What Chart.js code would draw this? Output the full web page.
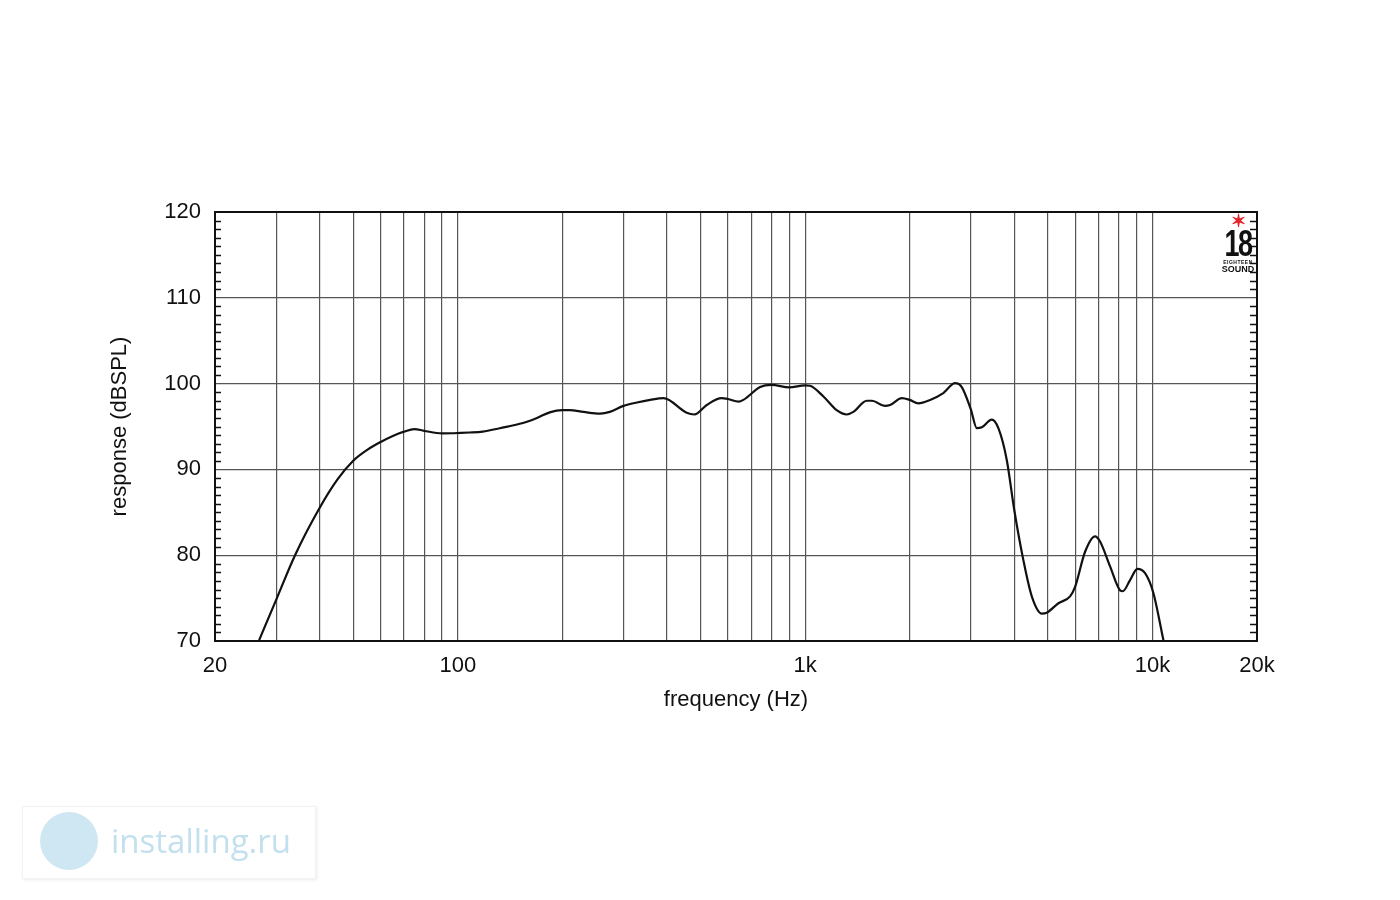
<!DOCTYPE html>
<html>
<head>
<meta charset="utf-8">
<script src="https://cdn.jsdelivr.net/npm/chart.js@4/dist/chart.umd.min.js"></script>
<style>
  html, body { margin: 0; padding: 0; background: #fff; }
  #wrap { position: relative; width: 1400px; height: 900px; }
  #logo { position: absolute; left: 1218px; top: 214px; width: 40px; text-align: center;
          font-family: "Liberation Sans Narrow", "Liberation Sans", Arial, sans-serif; color: #111; }
  #logo .star { color: #e3262b; font-size: 18px; line-height: 15px; font-weight: bold; }
  #logo .num { font-size: 36px; line-height: 30px; font-weight: bold; letter-spacing: -2px; transform: scaleX(0.75); }
  #logo .small { font-size: 5px; line-height: 6px; letter-spacing: 0.5px; font-weight: bold; }
  #logo .sound { font-size: 9px; line-height: 9px; font-weight: bold; }
  #wm { position: absolute; left: 22px; top: 806px; width: 292px; height: 71px; background: #fff;
        box-shadow: 1px 1px 3px rgba(0,0,0,0.08); border: 1px solid #f2f2f2; }
  #wm .circle { position: absolute; left: 17px; top: 5px; width: 58px; height: 58px; border-radius: 50%; background: #cfe7f3; }
  #wm .txt { position: absolute; left: 88px; top: 11px; font-family: "Open Sans", sans-serif; font-size: 33px; color: #c3e0ee; }
</style>
</head>
<body>
<div id="wrap">
  <canvas id="chart" width="1400" height="900"></canvas>
  <div id="logo">
    <div class="star">✶</div>
    <div class="num">18</div>
    <div class="small">EIGHTEEN</div>
    <div class="sound">SOUND</div>
  </div>
  <div id="wm"><div class="circle"></div><div class="txt">installing.ru</div></div>
</div>
<script>
// frequency response
const freqHz = [26.8, 30, 34, 40, 45, 50, 55, 60, 65, 70, 75, 80, 90, 108, 118, 132, 154, 169,
  184, 200, 210, 230, 257, 274, 300, 328, 358, 391, 456, 480, 521, 575, 600,
  643, 664, 742, 800, 900, 1000, 1033, 1129, 1233, 1318, 1377, 1505, 1556, 1699, 1756,
  1898, 2000, 2118, 2290, 2500, 2702, 2825, 3000, 3122, 3226, 3447, 3601, 3807, 4000, 4251,
  4494, 4802, 4963, 5362, 5793, 5988, 6398, 6836, 7066, 7551, 8070, 8216, 8622, 9050, 9524,
  10062, 10754];
const splDb = [70.1, 74.8, 80.0, 85.5, 88.8, 91.0, 92.3, 93.2, 93.9, 94.4, 94.7, 94.5, 94.2, 94.3, 94.4, 94.8, 95.4, 96.0,
  96.65, 96.9, 96.9, 96.7, 96.5, 96.7, 97.4, 97.8, 98.1, 98.3, 96.6, 96.4, 97.5, 98.3, 98.2,
  97.9, 98.1, 99.6, 99.85, 99.55, 99.8, 99.75, 98.5, 96.9, 96.4, 96.7, 98.0, 98.0, 97.4, 97.5,
  98.3, 98.1, 97.7, 98.1, 98.9, 100.05, 99.6, 97.0, 94.8, 94.9, 95.8, 94.8, 91.1, 85.3, 79.4,
  75.2, 73.2, 73.3, 74.4, 75.2, 76.3, 80.4, 82.2, 81.6, 78.7, 75.9, 75.8, 77.1, 78.4, 77.9,
  75.6, 70.1];

const xTicks = [20, 30, 40, 50, 60, 70, 80, 90, 100, 200, 300, 400, 500, 600, 700, 800, 900,
  1000, 2000, 3000, 4000, 5000, 6000, 7000, 8000, 9000, 10000, 20000];
const xLabels = { 20: '20', 100: '100', 1000: '1k', 10000: '10k', 20000: '20k' };
const yMin = 70, yMax = 120, yStep = 10;

const font = '"Liberation Sans", Arial, sans-serif';

// frame + 1 dB minor ticks on both sides
const framePlugin = {
  id: 'frame',
  afterDraw(chart) {
    const { ctx, chartArea: a } = chart;
    const y = chart.scales.y;
    ctx.save();
    ctx.strokeStyle = '#111';
    ctx.lineWidth = 1.5;
    ctx.beginPath();
    for (let v = yMin + 1; v < yMax; v++) {
      if (v % yStep === 0) continue;
      const py = Math.round(y.getPixelForValue(v)) + 0.5;
      ctx.moveTo(a.left, py); ctx.lineTo(a.left + 6, py);
      ctx.moveTo(a.right, py); ctx.lineTo(a.right - 7, py);
    }
    ctx.stroke();
    ctx.lineWidth = 2;
    ctx.strokeRect(a.left, a.top, a.right - a.left, a.bottom - a.top);
    ctx.restore();
  }
};

new Chart(document.getElementById('chart'), {
  type: 'line',
  data: {
    datasets: [{
      data: freqHz.map((f, i) => ({ x: f, y: splDb[i] })),
      borderColor: '#111',
      borderWidth: 2.2,
      pointRadius: 0,
      cubicInterpolationMode: 'monotone',
      fill: false
    }]
  },
  options: {
    responsive: false,
    animation: false,
    layout: { padding: { left: 95, top: 212, right: 143, bottom: 179 } },
    plugins: { legend: { display: false }, tooltip: { enabled: false } },
    scales: {
      x: {
        type: 'logarithmic',
        min: 20,
        max: 20000,
        afterBuildTicks: (scale) => { scale.ticks = xTicks.map(v => ({ value: v })); },
        afterFit: (scale) => { scale.height = 80; },
        ticks: {
          autoSkip: false,
          maxRotation: 0,
          padding: 12,
          color: '#111',
          font: { family: font, size: 22 },
          callback: (v) => xLabels[v] || ''
        },
        grid: { color: '#555', lineWidth: 1.2, drawTicks: false },
        border: { display: false },
        title: { display: true, text: 'frequency (Hz)', color: '#111',
                 font: { family: font, size: 22 }, padding: { top: 0, bottom: 8 } }
      },
      y: {
        min: yMin,
        max: yMax,
        afterFit: (scale) => { scale.width = 120; },
        ticks: { stepSize: yStep, padding: 14, color: '#111', font: { family: font, size: 22 } },
        grid: { color: '#555', lineWidth: 1.2, drawTicks: false },
        border: { display: false },
        title: { display: true, text: 'response (dBSPL)', color: '#111',
                 font: { family: font, size: 22 }, padding: { top: 12, bottom: 0 } }
      }
    }
  },
  plugins: [framePlugin]
});
</script>
</body>
</html>
